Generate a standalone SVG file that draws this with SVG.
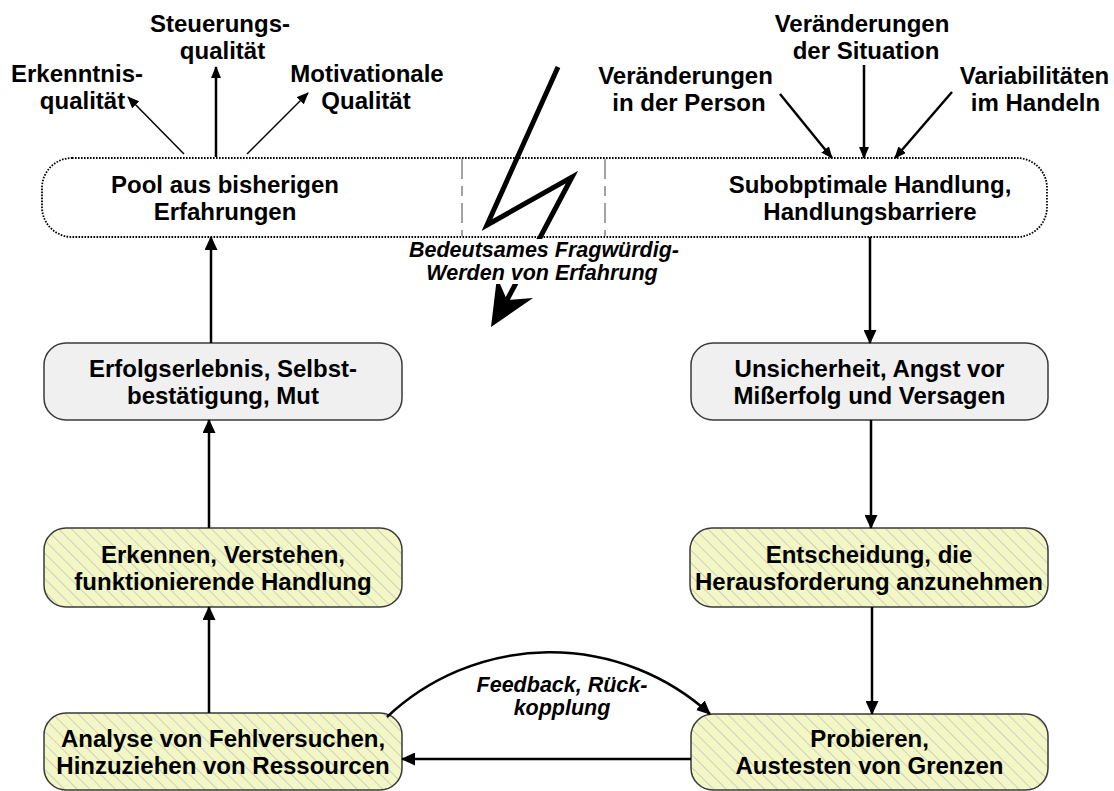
<svg xmlns="http://www.w3.org/2000/svg" width="1114" height="791" viewBox="0 0 1114 791">
<style>
text{font-family:"Liberation Sans",Arial,sans-serif;font-weight:bold;font-size:24px;fill:#000;text-anchor:middle}
.it{font-style:italic;font-size:21.5px}
.gray{fill:#f0f0f0;stroke:#3a3a3a;stroke-width:1.5}
.yel{stroke:#3a3a3a;stroke-width:1.5}
.c{fill:none;stroke:#000;stroke-width:2.5}
.thin{fill:none;stroke:#000;stroke-width:1.5}
</style>
<defs>
<pattern id="hatch" patternUnits="userSpaceOnUse" width="9" height="9" patternTransform="rotate(-45)">
<rect width="9" height="9" fill="#f3f7c6"/>
<line x1="0" y1="0" x2="0" y2="9" stroke="#b5b5b5" stroke-width="1.2"/>
</pattern>
<marker id="ah" viewBox="0 0 14 13" markerWidth="14" markerHeight="13" refX="13" refY="6.5" orient="auto" markerUnits="userSpaceOnUse"><path d="M0,0 L14,6.5 L0,13 z" fill="#000"/></marker>
<marker id="ahs" viewBox="0 0 12 10" markerWidth="12" markerHeight="10" refX="11" refY="5" orient="auto" markerUnits="userSpaceOnUse"><path d="M0,0 L12,5 L0,10 z" fill="#000"/></marker>
</defs>

<g id="pool">
<rect x="42" y="158" width="1005" height="79" rx="30" ry="30" fill="#fff" stroke="#000" stroke-width="1.8" stroke-dasharray="1.6 1.4"/>
<line x1="462" y1="159" x2="462" y2="236" stroke="#666" stroke-width="1.2" stroke-dasharray="20 7 10 7"/>
<line x1="605" y1="159" x2="605" y2="236" stroke="#666" stroke-width="1.2" stroke-dasharray="20 7 10 7"/>
<text x="225" y="192.5">Pool aus bisherigen</text>
<text x="225" y="219.5">Erfahrungen</text>
<text x="870" y="192.5">Subobptimale Handlung,</text>
<text x="870" y="219.5">Handlungsbarriere</text>
</g>

<g id="lightning">
<polyline points="558,67 487,225 572,177 507,300" fill="none" stroke="#000" stroke-width="5" stroke-linejoin="miter"/>
<polygon points="491,327 497,277 507,300 533,298" fill="#000"/>
<rect x="410" y="239" width="270" height="45" fill="#fff"/>
<text class="it" x="544" y="257">Bedeutsames Fragwürdig-</text>
<text class="it" x="542" y="280">Werden von Erfahrung</text>
</g>

<g id="label-erkenntnis">
<text x="77" y="82">Erkenntnis-</text>
<text x="82.5" y="109">qualität</text>
</g>
<g id="label-steuerung">
<text x="220" y="32">Steuerungs-</text>
<text x="222.5" y="59">qualität</text>
</g>
<g id="label-motivation">
<text x="367" y="82">Motivationale</text>
<text x="366" y="109">Qualität</text>
</g>
<g id="label-person">
<text x="685.5" y="84">Veränderungen</text>
<text x="689" y="111">in der Person</text>
</g>
<g id="label-situation">
<text x="862" y="32">Veränderungen</text>
<text x="866" y="59">der Situation</text>
</g>
<g id="label-handeln">
<text x="1034.5" y="84">Variabilitäten</text>
<text x="1035.5" y="111">im Handeln</text>
</g>

<g id="erfolg">
<rect class="gray" x="44" y="343" width="358" height="77" rx="22"/>
<text x="223" y="377">Erfolgserlebnis, Selbst-</text>
<text x="223" y="404">bestätigung, Mut</text>
</g>
<g id="unsicherheit">
<rect class="gray" x="691" y="343" width="357" height="77" rx="22"/>
<text x="869.5" y="377">Unsicherheit, Angst vor</text>
<text x="869.5" y="404">Mißerfolg und Versagen</text>
</g>
<g id="erkennen">
<rect class="yel" fill="url(#hatch)" x="44" y="528" width="358" height="79" rx="22"/>
<text x="223" y="563">Erkennen, Verstehen,</text>
<text x="223" y="590">funktionierende Handlung</text>
</g>
<g id="entscheidung">
<rect class="yel" fill="url(#hatch)" x="690" y="528" width="358" height="79" rx="22"/>
<text x="869" y="563">Entscheidung, die</text>
<text x="869" y="590">Herausforderung anzunehmen</text>
</g>
<g id="analyse">
<rect class="yel" fill="url(#hatch)" x="44" y="713" width="358" height="77" rx="22"/>
<text x="223" y="747">Analyse von Fehlversuchen,</text>
<text x="223" y="774">Hinzuziehen von Ressourcen</text>
</g>
<g id="probieren">
<rect class="yel" fill="url(#hatch)" x="691" y="714" width="357" height="76" rx="22"/>
<text x="869.5" y="747">Probieren,</text>
<text x="869.5" y="774">Austesten von Grenzen</text>
</g>

<g id="connectors">
<path class="thin" d="M184,154 L128,97" marker-end="url(#ahs)"/>
<path class="c" d="M216,157 L216,67" marker-end="url(#ahs)"/>
<path class="thin" d="M247,154 L308,93" marker-end="url(#ahs)"/>
<path class="c" d="M780,94 L832,158" marker-end="url(#ahs)"/>
<path class="c" d="M864,65 L864,158" marker-end="url(#ahs)"/>
<path class="c" d="M952,92 L895,158" marker-end="url(#ahs)"/>
<path class="c" d="M211,343 L211,237" marker-end="url(#ah)"/>
<path class="c" d="M209,528 L209,420" marker-end="url(#ah)"/>
<path class="c" d="M209,713 L209,607" marker-end="url(#ah)"/>
<path class="c" d="M870,237 L870,343" marker-end="url(#ah)"/>
<path class="c" d="M871,420 L871,528" marker-end="url(#ah)"/>
<path class="c" d="M872,607 L872,714" marker-end="url(#ah)"/>
<path class="c" d="M691,759 L402,759" marker-end="url(#ah)"/>
<path class="c" d="M387,717 A238,238 0 0 1 710,714" marker-end="url(#ah)"/>
<text class="it" x="562" y="692">Feedback, Rück-</text>
<text class="it" x="562" y="715">kopplung</text>
</g>
</svg>
